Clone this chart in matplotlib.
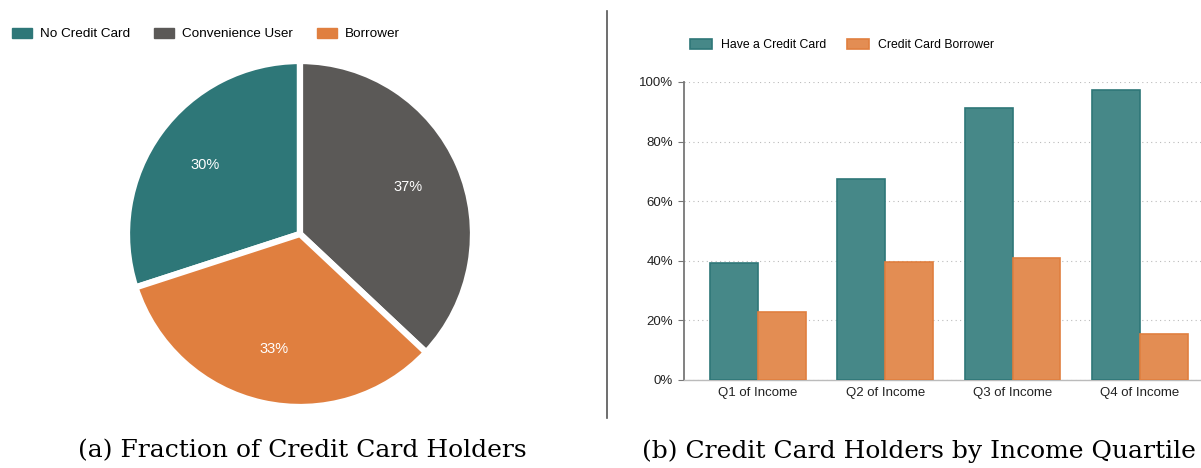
import numpy as np
import matplotlib
matplotlib.use("Agg")
import matplotlib.pyplot as plt
from matplotlib.patches import Patch

# pie data (legend order)
pie_labels = ["No Credit Card", "Convenience User", "Borrower"]
pie_values = [30, 37, 33]
pie_colors = ["#2E7778", "#5B5957", "#E07F3F"]

# bar data
quartiles = ["Q1 of Income", "Q2 of Income", "Q3 of Income", "Q4 of Income"]
have_card = [39.3, 67.3, 91.3, 97.3]
borrower = [22.8, 39.5, 41.0, 15.4]
bar_series = ["Have a Credit Card", "Credit Card Borrower"]
y_ticks = [0, 20, 40, 60, 80, 100]

plt.rcParams['font.family'] = ['Liberation Sans', 'DejaVu Sans']

W, H = 1201, 468
fig = plt.figure(figsize=(W / 100, H / 100), dpi=100)


def box(x0, y0, x1, y1):
    "pixel box -> figure fraction"
    return [x0 / W, 1 - y1 / H, (x1 - x0) / W, (y1 - y0) / H]


# ---- pie ----
cx, cy, r = 300, 234, 173
ax1 = fig.add_axes(box(cx - r, cy - r, cx + r, cy + r))
wedges, texts, autotexts = ax1.pie(
    pie_values, colors=pie_colors, startangle=198, counterclock=False,
    autopct='%.0f%%', pctdistance=0.68, radius=1,
    wedgeprops=dict(edgecolor='white', linewidth=4.5),
    textprops=dict(color='white', fontsize=10.5))
ax1.set_xlim(-1.0, 1.0)
ax1.set_ylim(-1.0, 1.0)
ax1.set_aspect('equal')

fig.legend(handles=[Patch(facecolor=c, edgecolor=c) for c in pie_colors],
           labels=pie_labels, loc='center left',
           bbox_to_anchor=(0 / W, 1 - 34 / H), ncol=3, frameon=False,
           fontsize=9.7, handlelength=1.5, handleheight=0.8,
           handletextpad=0.6, columnspacing=1.75)

# ---- bars ----
ax2 = fig.add_axes(box(684, 82, 1201, 380))
x = np.arange(len(quartiles))
bw = 0.375
ax2.bar(x - bw / 2, have_card, bw, color="#468888", edgecolor="#2E7778",
        linewidth=1.2, label=bar_series[0], zorder=3)
ax2.bar(x + bw / 2, borrower, bw, color="#E38D53", edgecolor="#E07F3F",
        linewidth=1.2, label=bar_series[1], zorder=3)
ax2.set_xlim(-0.58, 3.48)
ax2.set_ylim(0, 100)
ax2.set_yticks(y_ticks)
ax2.set_yticklabels([f"{v}%" for v in y_ticks])
ax2.set_xticks(x)
ax2.set_xticklabels(quartiles)
ax2.yaxis.grid(True, linestyle=(0, (1, 3)), color="#BBBBBB", linewidth=0.8, zorder=0)
for s in ['top', 'right']:
    ax2.spines[s].set_visible(False)
ax2.spines['left'].set_color("#777777")
ax2.spines['left'].set_linewidth(1.3)
ax2.spines['bottom'].set_color("#BBBBBB")
ax2.spines['bottom'].set_linewidth(1.0)
ax2.tick_params(axis='y', length=4, color="#777777", labelsize=9.5, pad=4,
                labelcolor="#222222")
ax2.tick_params(axis='x', length=0, labelsize=9.5, pad=5, labelcolor="#222222")

fig.legend(*ax2.get_legend_handles_labels(), loc='center',
           bbox_to_anchor=(842 / W, 1 - 45 / H), ncol=2, frameon=False,
           fontsize=8.8, handlelength=1.8, handleheight=0.85,
           handletextpad=0.7, columnspacing=1.7)

# divider
fig.add_artist(plt.Line2D([607 / W, 607 / W], [1 - 11 / H, 1 - 418 / H],
                          color="#555555", linewidth=1.2))

# captions
fig.text(302 / W, 1 - 451 / H, "(a) Fraction of Credit Card Holders",
         family='DejaVu Serif', fontsize=18, ha='center', va='center')
fig.text(919 / W, 1 - 451 / H, "(b) Credit Card Holders by Income Quartile",
         family='DejaVu Serif', fontsize=18, ha='center', va='center')

fig.savefig("out.png", dpi=100)
